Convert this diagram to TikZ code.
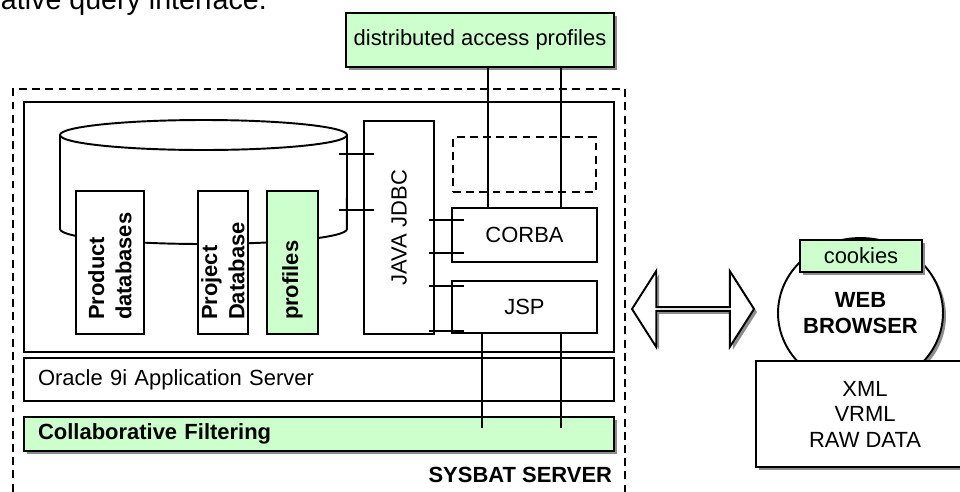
\documentclass[tikz,border=0pt]{standalone}
\usepackage{fontspec}
\setmainfont{Liberation Sans}
\usetikzlibrary{shapes.geometric,shapes.arrows,shadows,calc}
\definecolor{boxgreen}{HTML}{CCFFCC}
\newcommand{\diagfont}{\fontsize{12.5}{14.5}\selectfont}
\begin{document}
\begin{tikzpicture}
    [x=0.02cm, y=-0.02cm, line width=1.1pt, font=\diagfont,
     box/.style={draw, rectangle, fill=white, inner sep=0pt},
     withshadow/.style={drop shadow={shadow xshift=0.06cm, shadow yshift=-0.06cm, fill=black!45, opacity=1}},
     bar/.style={box, minimum height=#1, text width=11.24cm, inner xsep=0.28cm, align=left},
     column/.style={box, rotate=90, minimum width=2.86cm, minimum height=#1, text width=2.3cm, inner xsep=0.28cm, align=left, font=\fontsize{12.5}{15.5}\selectfont\bfseries}]
    \useasboundingbox (0,0) rectangle (960,491);

    \node[anchor=base west, inner sep=0pt, font=\fontsize{16.3}{19}\selectfont] (intro) at (0,9) {ative query interface.};

    \node[box, dash pattern=on 4.5pt off 3pt, minimum width=12.24cm, minimum height=8.22cm] (server) at (319,294.5) {};
    \node[box, minimum width=11.8cm, minimum height=5cm] (app) at (319,227) {};
    \node[bar=0.86cm] (oracle) at (319,379.5) {Oracle 9i Application Server};
    \node[bar=0.68cm, fill=boxgreen, withshadow, font=\diagfont\bfseries] (filter) at (319,434) {Collaborative Filtering};
    \node[anchor=east, inner sep=0pt, font=\diagfont\bfseries] (sysbat) at (613,475) {SYSBAT SERVER};

    \draw[fill=white] (60,135) -- (60,229) arc[start angle=180, end angle=360, x radius=2.87cm, y radius=0.3cm] -- (347,135);
    \draw (203.5,135) ellipse [x radius=2.87cm, y radius=0.3cm];
    \node[column=1.36cm] (prod) at (110,262.5) {Product\\databases};
    \node[column=1cm] (proj) at (223,262.5) {Project\\Database};
    \node[column=1.02cm, fill=boxgreen] (prof) at (292.5,262.5) {profiles};

    \node[box, minimum width=1.4cm, minimum height=4.26cm, label={[rotate=90]center:JAVA JDBC}] (jdbc) at (399,227.5) {};
    \node[box, dash pattern=on 4.5pt off 3pt, minimum width=2.86cm, minimum height=1.1cm] (spare) at (524.5,164.5) {};
    \node[box, minimum width=2.9cm, minimum height=1.08cm] (corba) at (524.5,235) {CORBA};
    \node[box, minimum width=2.9cm, minimum height=1.04cm] (jsp) at (524.5,307) {JSP};

    \node[box, fill=boxgreen, withshadow, minimum width=5.36cm, minimum height=1.08cm] (profiles) at (480,40) {distributed access profiles};

    \foreach \f in {0.25,0.748}
        \draw ($(corba.north west)!\f!(corba.north east)$) coordinate (tap) -- (tap |- profiles.south);
    \foreach \f in {0.21,0.748}
        \draw ($(jsp.south west)!\f!(jsp.south east)$) coordinate (tap) -- ([yshift=0.12cm]tap |- filter.center);
    \foreach \y in {154,210}
        \draw (jdbc.west |- 0,\y) +(-0.48cm,0) -- +(0.22cm,0);
    \foreach \y in {220,253,286,331}
        \draw (jdbc.east |- 0,\y) +(-0.12cm,0) -- +(0.58cm,0);

    \node[double arrow, draw, fill=white, withshadow, minimum height=2.44cm, minimum width=1.52cm, double arrow head extend=0.38cm, double arrow tip angle=115, inner sep=0pt] (link) at (693,309) {};

    \node[ellipse, draw, fill=white, withshadow, minimum width=3.3cm, minimum height=3cm, inner sep=0pt, align=center, font=\diagfont\bfseries] (browser) at (860.5,313) {WEB\\BROWSER};
    \node[box, fill=boxgreen, withshadow, minimum width=2.44cm, minimum height=0.64cm] (cookies) at (861,256) {cookies};
    \node[box, withshadow, minimum width=4.36cm, minimum height=2.12cm, align=center] (formats) at (865,414) {XML\\VRML\\RAW DATA};

\end{tikzpicture}
\end{document}
